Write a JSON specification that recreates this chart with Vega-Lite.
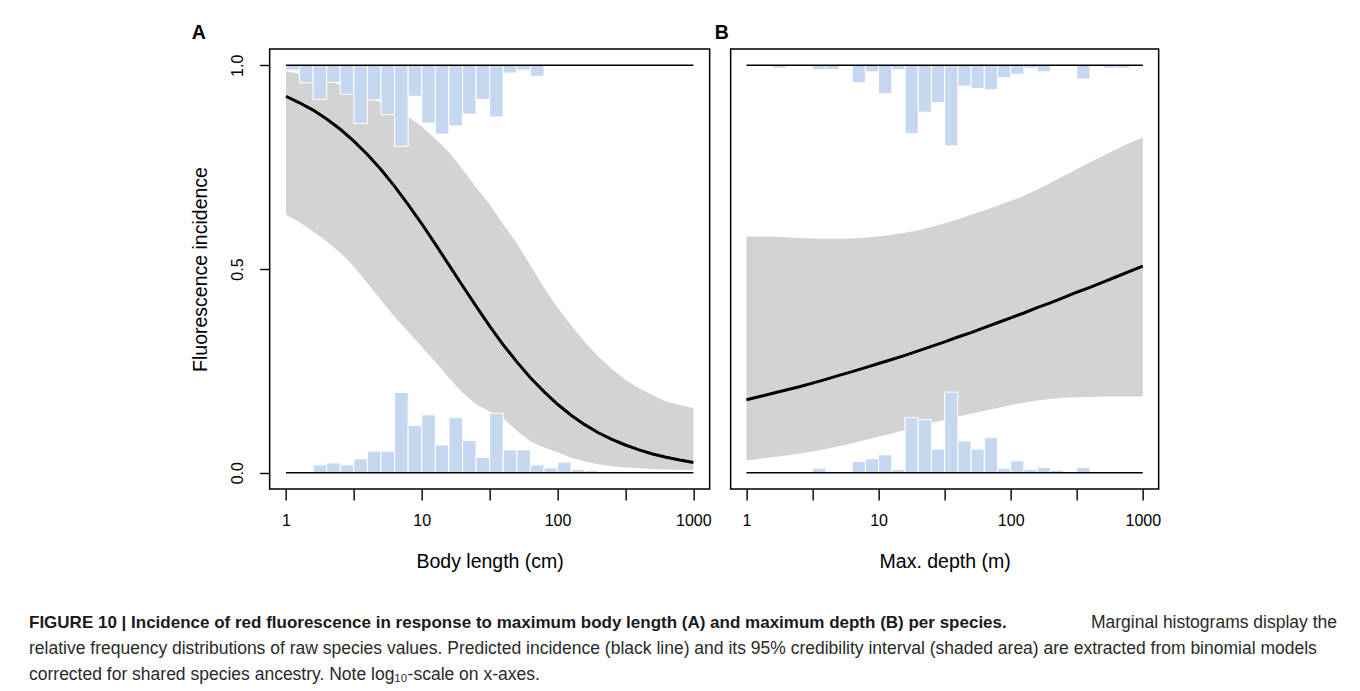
{
  "$schema": "https://vega.github.io/schema/vega-lite/v6.json",
  "background": "white",
  "padding": {"left": 29, "top": 21, "right": 0, "bottom": 0},
  "config": {
    "font": "Liberation Sans",
    "axis": {
      "grid": false,
      "domain": false,
      "tickColor": "black",
      "tickWidth": 1.4,
      "labelColor": "black",
      "titleColor": "black",
      "labelFont": "Liberation Sans",
      "titleFont": "Liberation Sans",
      "labelFontSize": 16,
      "titleFontSize": 19.5,
      "titleFontWeight": "normal"
    }
  },
  "datasets": {
    "curveA": [
      {"length": 1, "incidence": 0.924, "lower": 0.633, "upper": 0.985},
      {"length": 1.2589, "incidence": 0.908, "lower": 0.615, "upper": 0.980},
      {"length": 1.5849, "incidence": 0.890, "lower": 0.592, "upper": 0.972},
      {"length": 1.9953, "incidence": 0.868, "lower": 0.568, "upper": 0.963},
      {"length": 2.5119, "incidence": 0.843, "lower": 0.540, "upper": 0.952},
      {"length": 3.1623, "incidence": 0.814, "lower": 0.506, "upper": 0.940},
      {"length": 3.9811, "incidence": 0.781, "lower": 0.465, "upper": 0.925},
      {"length": 5.0119, "incidence": 0.744, "lower": 0.423, "upper": 0.908},
      {"length": 6.3096, "incidence": 0.703, "lower": 0.383, "upper": 0.890},
      {"length": 7.9433, "incidence": 0.658, "lower": 0.346, "upper": 0.874},
      {"length": 10, "incidence": 0.611, "lower": 0.309, "upper": 0.850},
      {"length": 12.589, "incidence": 0.561, "lower": 0.272, "upper": 0.820},
      {"length": 15.849, "incidence": 0.510, "lower": 0.233, "upper": 0.787},
      {"length": 19.953, "incidence": 0.459, "lower": 0.197, "upper": 0.745},
      {"length": 25.119, "incidence": 0.409, "lower": 0.168, "upper": 0.700},
      {"length": 31.623, "incidence": 0.360, "lower": 0.150, "upper": 0.659},
      {"length": 39.811, "incidence": 0.314, "lower": 0.134, "upper": 0.610},
      {"length": 50.119, "incidence": 0.272, "lower": 0.103, "upper": 0.563},
      {"length": 63.096, "incidence": 0.233, "lower": 0.077, "upper": 0.509},
      {"length": 79.433, "incidence": 0.199, "lower": 0.062, "upper": 0.454},
      {"length": 100, "incidence": 0.168, "lower": 0.050, "upper": 0.405},
      {"length": 125.89, "incidence": 0.141, "lower": 0.037, "upper": 0.362},
      {"length": 158.49, "incidence": 0.118, "lower": 0.028, "upper": 0.321},
      {"length": 199.53, "incidence": 0.098, "lower": 0.021, "upper": 0.285},
      {"length": 251.19, "incidence": 0.082, "lower": 0.016, "upper": 0.254},
      {"length": 316.23, "incidence": 0.068, "lower": 0.013, "upper": 0.228},
      {"length": 398.11, "incidence": 0.056, "lower": 0.011, "upper": 0.207},
      {"length": 501.19, "incidence": 0.046, "lower": 0.009, "upper": 0.190},
      {"length": 630.96, "incidence": 0.038, "lower": 0.008, "upper": 0.175},
      {"length": 794.33, "incidence": 0.031, "lower": 0.007, "upper": 0.166},
      {"length": 1000, "incidence": 0.025, "lower": 0.006, "upper": 0.159}
    ],
    "curveB": [
      {"depth": 1, "incidence": 0.179, "lower": 0.030, "upper": 0.580},
      {"depth": 1.2589, "incidence": 0.187, "lower": 0.034, "upper": 0.580},
      {"depth": 1.5849, "incidence": 0.195, "lower": 0.038, "upper": 0.579},
      {"depth": 1.9953, "incidence": 0.203, "lower": 0.042, "upper": 0.578},
      {"depth": 2.5119, "incidence": 0.211, "lower": 0.047, "upper": 0.576},
      {"depth": 3.1623, "incidence": 0.220, "lower": 0.052, "upper": 0.575},
      {"depth": 3.9811, "incidence": 0.229, "lower": 0.058, "upper": 0.574},
      {"depth": 5.0119, "incidence": 0.239, "lower": 0.065, "upper": 0.574},
      {"depth": 6.3096, "incidence": 0.248, "lower": 0.072, "upper": 0.575},
      {"depth": 7.9433, "incidence": 0.258, "lower": 0.080, "upper": 0.577},
      {"depth": 10, "incidence": 0.268, "lower": 0.088, "upper": 0.580},
      {"depth": 12.589, "incidence": 0.278, "lower": 0.096, "upper": 0.584},
      {"depth": 15.849, "incidence": 0.288, "lower": 0.105, "upper": 0.589},
      {"depth": 19.953, "incidence": 0.299, "lower": 0.114, "upper": 0.595},
      {"depth": 25.119, "incidence": 0.310, "lower": 0.122, "upper": 0.603},
      {"depth": 31.623, "incidence": 0.321, "lower": 0.130, "upper": 0.612},
      {"depth": 39.811, "incidence": 0.333, "lower": 0.138, "upper": 0.622},
      {"depth": 50.119, "incidence": 0.344, "lower": 0.145, "upper": 0.633},
      {"depth": 63.096, "incidence": 0.356, "lower": 0.152, "upper": 0.644},
      {"depth": 79.433, "incidence": 0.368, "lower": 0.159, "upper": 0.655},
      {"depth": 100, "incidence": 0.380, "lower": 0.166, "upper": 0.667},
      {"depth": 125.89, "incidence": 0.392, "lower": 0.172, "upper": 0.680},
      {"depth": 158.49, "incidence": 0.405, "lower": 0.177, "upper": 0.695},
      {"depth": 199.53, "incidence": 0.417, "lower": 0.181, "upper": 0.711},
      {"depth": 251.19, "incidence": 0.430, "lower": 0.184, "upper": 0.728},
      {"depth": 316.23, "incidence": 0.443, "lower": 0.185, "upper": 0.745},
      {"depth": 398.11, "incidence": 0.455, "lower": 0.186, "upper": 0.762},
      {"depth": 501.19, "incidence": 0.468, "lower": 0.187, "upper": 0.778},
      {"depth": 630.96, "incidence": 0.481, "lower": 0.187, "upper": 0.794},
      {"depth": 794.33, "incidence": 0.494, "lower": 0.187, "upper": 0.809},
      {"depth": 1000, "incidence": 0.507, "lower": 0.187, "upper": 0.823}
    ],
    "histA": [
      {"side": "bottom", "binStart": 1.5849, "binEnd": 1.9953, "share": 0.019},
      {"side": "bottom", "binStart": 1.9953, "binEnd": 2.5119, "share": 0.024},
      {"side": "bottom", "binStart": 2.5119, "binEnd": 3.1623, "share": 0.019},
      {"side": "bottom", "binStart": 3.1623, "binEnd": 3.9811, "share": 0.034},
      {"side": "bottom", "binStart": 3.9811, "binEnd": 5.0119, "share": 0.053},
      {"side": "bottom", "binStart": 5.0119, "binEnd": 6.3096, "share": 0.053},
      {"side": "bottom", "binStart": 6.3096, "binEnd": 7.9433, "share": 0.197},
      {"side": "bottom", "binStart": 7.9433, "binEnd": 10, "share": 0.116},
      {"side": "bottom", "binStart": 10, "binEnd": 12.589, "share": 0.142},
      {"side": "bottom", "binStart": 12.589, "binEnd": 15.849, "share": 0.068},
      {"side": "bottom", "binStart": 15.849, "binEnd": 19.953, "share": 0.135},
      {"side": "bottom", "binStart": 19.953, "binEnd": 25.119, "share": 0.079},
      {"side": "bottom", "binStart": 25.119, "binEnd": 31.623, "share": 0.038},
      {"side": "bottom", "binStart": 31.623, "binEnd": 39.811, "share": 0.146},
      {"side": "bottom", "binStart": 39.811, "binEnd": 50.119, "share": 0.056},
      {"side": "bottom", "binStart": 50.119, "binEnd": 63.096, "share": 0.056},
      {"side": "bottom", "binStart": 63.096, "binEnd": 79.433, "share": 0.019},
      {"side": "bottom", "binStart": 79.433, "binEnd": 100, "share": 0.012},
      {"side": "bottom", "binStart": 100, "binEnd": 125.89, "share": 0.026},
      {"side": "bottom", "binStart": 125.89, "binEnd": 158.49, "share": 0.008},
      {"side": "bottom", "binStart": 158.49, "binEnd": 199.53, "share": 0.005},
      {"side": "top", "binStart": 1, "binEnd": 1.2589, "share": 0.012},
      {"side": "top", "binStart": 1.2589, "binEnd": 1.5849, "share": 0.043},
      {"side": "top", "binStart": 1.5849, "binEnd": 1.9953, "share": 0.084},
      {"side": "top", "binStart": 1.9953, "binEnd": 2.5119, "share": 0.042},
      {"side": "top", "binStart": 2.5119, "binEnd": 3.1623, "share": 0.071},
      {"side": "top", "binStart": 3.1623, "binEnd": 3.9811, "share": 0.143},
      {"side": "top", "binStart": 3.9811, "binEnd": 5.0119, "share": 0.085},
      {"side": "top", "binStart": 5.0119, "binEnd": 6.3096, "share": 0.121},
      {"side": "top", "binStart": 6.3096, "binEnd": 7.9433, "share": 0.199},
      {"side": "top", "binStart": 7.9433, "binEnd": 10, "share": 0.076},
      {"side": "top", "binStart": 10, "binEnd": 12.589, "share": 0.142},
      {"side": "top", "binStart": 12.589, "binEnd": 15.849, "share": 0.169},
      {"side": "top", "binStart": 15.849, "binEnd": 19.953, "share": 0.149},
      {"side": "top", "binStart": 19.953, "binEnd": 25.119, "share": 0.120},
      {"side": "top", "binStart": 25.119, "binEnd": 31.623, "share": 0.084},
      {"side": "top", "binStart": 31.623, "binEnd": 39.811, "share": 0.127},
      {"side": "top", "binStart": 39.811, "binEnd": 50.119, "share": 0.019},
      {"side": "top", "binStart": 50.119, "binEnd": 63.096, "share": 0.012},
      {"side": "top", "binStart": 63.096, "binEnd": 79.433, "share": 0.027}
    ],
    "histB": [
      {"side": "bottom", "binStart": 3.1623, "binEnd": 3.9811, "share": 0.011},
      {"side": "bottom", "binStart": 6.3096, "binEnd": 7.9433, "share": 0.028},
      {"side": "bottom", "binStart": 7.9433, "binEnd": 10, "share": 0.034},
      {"side": "bottom", "binStart": 10, "binEnd": 12.589, "share": 0.044},
      {"side": "bottom", "binStart": 12.589, "binEnd": 15.849, "share": 0.008},
      {"side": "bottom", "binStart": 15.849, "binEnd": 19.953, "share": 0.135},
      {"side": "bottom", "binStart": 19.953, "binEnd": 25.119, "share": 0.130},
      {"side": "bottom", "binStart": 25.119, "binEnd": 31.623, "share": 0.058},
      {"side": "bottom", "binStart": 31.623, "binEnd": 39.811, "share": 0.198},
      {"side": "bottom", "binStart": 39.811, "binEnd": 50.119, "share": 0.078},
      {"side": "bottom", "binStart": 50.119, "binEnd": 63.096, "share": 0.058},
      {"side": "bottom", "binStart": 63.096, "binEnd": 79.433, "share": 0.087},
      {"side": "bottom", "binStart": 79.433, "binEnd": 100, "share": 0.011},
      {"side": "bottom", "binStart": 100, "binEnd": 125.89, "share": 0.029},
      {"side": "bottom", "binStart": 125.89, "binEnd": 158.49, "share": 0.008},
      {"side": "bottom", "binStart": 158.49, "binEnd": 199.53, "share": 0.013},
      {"side": "bottom", "binStart": 199.53, "binEnd": 251.19, "share": 0.006},
      {"side": "bottom", "binStart": 316.23, "binEnd": 398.11, "share": 0.013},
      {"side": "top", "binStart": 1.5849, "binEnd": 1.9953, "share": 0.007},
      {"side": "top", "binStart": 3.1623, "binEnd": 3.9811, "share": 0.011},
      {"side": "top", "binStart": 3.9811, "binEnd": 5.0119, "share": 0.011},
      {"side": "top", "binStart": 6.3096, "binEnd": 7.9433, "share": 0.043},
      {"side": "top", "binStart": 7.9433, "binEnd": 10, "share": 0.016},
      {"side": "top", "binStart": 10, "binEnd": 12.589, "share": 0.070},
      {"side": "top", "binStart": 12.589, "binEnd": 15.849, "share": 0.011},
      {"side": "top", "binStart": 15.849, "binEnd": 19.953, "share": 0.168},
      {"side": "top", "binStart": 19.953, "binEnd": 25.119, "share": 0.115},
      {"side": "top", "binStart": 25.119, "binEnd": 31.623, "share": 0.092},
      {"side": "top", "binStart": 31.623, "binEnd": 39.811, "share": 0.198},
      {"side": "top", "binStart": 39.811, "binEnd": 50.119, "share": 0.051},
      {"side": "top", "binStart": 50.119, "binEnd": 63.096, "share": 0.057},
      {"side": "top", "binStart": 63.096, "binEnd": 79.433, "share": 0.060},
      {"side": "top", "binStart": 79.433, "binEnd": 100, "share": 0.030},
      {"side": "top", "binStart": 100, "binEnd": 125.89, "share": 0.022},
      {"side": "top", "binStart": 125.89, "binEnd": 158.49, "share": 0.007},
      {"side": "top", "binStart": 158.49, "binEnd": 199.53, "share": 0.016},
      {"side": "top", "binStart": 316.23, "binEnd": 398.11, "share": 0.034},
      {"side": "top", "binStart": 501.19, "binEnd": 630.96, "share": 0.007},
      {"side": "top", "binStart": 630.96, "binEnd": 794.33, "share": 0.007}
    ],
    "baseLines": [
      {"from": 1, "to": 1000, "level": 0},
      {"from": 1, "to": 1000, "level": 1}
    ],
    "caption": [
      {"line": 1, "part": "lead", "text": "FIGURE 10 | Incidence of red fluorescence in response to maximum body length (A) and maximum depth (B) per species."},
      {"line": 1, "part": "tail", "text": "Marginal histograms display the"},
      {"line": 2, "part": "body", "text": "relative frequency distributions of raw species values. Predicted incidence (black line) and its 95% credibility interval (shaded area) are extracted from binomial models"},
      {"line": 3, "part": "body", "text": "corrected for shared species ancestry. Note log₁₀-scale on x-axes."}
    ]
  },
  "vconcat": [
    {
      "hconcat": [
        {
          "width": 44,
          "height": 440,
          "view": {"stroke": null},
          "data": {"values": []},
          "mark": "point"
        },
        {
          "width": 440,
          "height": 440,
          "view": {"stroke": "black", "strokeWidth": 1.5},
          "title": {"text": "A", "anchor": "start", "frame": "group", "dx": -78, "offset": 6, "fontSize": 19.5, "fontWeight": "bold", "color": "black"},
          "layer": [
            {
              "data": {"name": "curveA"},
              "mark": {"type": "area", "color": "#d3d3d3"},
              "encoding": {
                "x": {
                  "field": "length", "type": "quantitative", "title": "Body length (cm)",
                  "scale": {"type": "log", "domain": [0.7586, 1318.26], "nice": false},
                  "axis": {
                    "values": [1, 3.1623, 10, 31.623, 100, 316.23, 1000],
                    "labelExpr": "datum.value == 1 || datum.value == 10 || datum.value == 100 || datum.value == 1000 ? datum.value + '' : ''",
                    "tickSize": 11, "labelPadding": 12, "titlePadding": 24,
                    "labelFlush": false, "labelOverlap": false
                  }
                },
                "y": {
                  "field": "lower", "type": "quantitative", "title": "Fluorescence incidence",
                  "scale": {"domain": [-0.04, 1.04], "nice": false, "zero": false},
                  "axis": {
                    "values": [0, 0.5, 1], "format": ".1f",
                    "labelAngle": -90, "labelAlign": "center", "labelBaseline": "bottom",
                    "tickSize": 10, "labelPadding": 14, "titlePadding": 19
                  }
                },
                "y2": {"field": "upper"}
              }
            },
            {
              "data": {"name": "curveA"},
              "mark": {"type": "line", "color": "black", "strokeWidth": 3},
              "encoding": {
                "x": {"field": "length", "type": "quantitative", "title": "Body length (cm)"},
                "y": {"field": "incidence", "type": "quantitative", "scale": {"domain": [-0.04, 1.04], "nice": false, "zero": false}, "axis": null}
              }
            },
            {
              "data": {"name": "histA"},
              "transform": [{"filter": "datum.side === 'bottom'"}],
              "mark": {"type": "rect", "fill": "#c5d8f0", "stroke": "white", "strokeWidth": 1},
              "encoding": {
                "x": {"field": "binStart", "type": "quantitative", "title": "Body length (cm)"},
                "x2": {"field": "binEnd"},
                "y": {"field": "share", "type": "quantitative", "scale": {"domain": [-0.04, 1.04], "nice": false, "zero": false}, "axis": null},
                "y2": {"datum": 0}
              }
            },
            {
              "data": {"name": "histA"},
              "transform": [{"filter": "datum.side === 'top'"}],
              "mark": {"type": "rect", "fill": "#c5d8f0", "stroke": "white", "strokeWidth": 1},
              "encoding": {
                "x": {"field": "binStart", "type": "quantitative", "title": "Body length (cm)"},
                "x2": {"field": "binEnd"},
                "y": {"field": "share", "type": "quantitative", "scale": {"domain": [-0.04, 1.04], "nice": false, "zero": false, "reverse": true}, "axis": null},
                "y2": {"datum": 0}
              }
            },
            {
              "data": {"name": "baseLines"},
              "mark": {"type": "rule", "color": "black", "strokeWidth": 1.5},
              "encoding": {
                "x": {"field": "from", "type": "quantitative", "title": "Body length (cm)"},
                "x2": {"field": "to"},
                "y": {"field": "level", "type": "quantitative", "scale": {"domain": [-0.04, 1.04], "nice": false, "zero": false}, "axis": null}
              }
            }
          ],
          "resolve": {"scale": {"y": "independent"}}
        },
        {
          "width": 428,
          "height": 440,
          "view": {"stroke": "black", "strokeWidth": 1.5},
          "title": {"text": "B", "anchor": "start", "frame": "group", "dx": -16, "offset": 6, "fontSize": 19.5, "fontWeight": "bold", "color": "black"},
          "layer": [
            {
              "data": {"name": "curveB"},
              "mark": {"type": "area", "color": "#d3d3d3"},
              "encoding": {
                "x": {
                  "field": "depth", "type": "quantitative", "title": "Max. depth (m)",
                  "scale": {"type": "log", "domain": [0.7586, 1318.26], "nice": false},
                  "axis": {
                    "values": [1, 3.1623, 10, 31.623, 100, 316.23, 1000],
                    "labelExpr": "datum.value == 1 || datum.value == 10 || datum.value == 100 || datum.value == 1000 ? datum.value + '' : ''",
                    "tickSize": 11, "labelPadding": 12, "titlePadding": 24,
                    "labelFlush": false, "labelOverlap": false
                  }
                },
                "y": {"field": "lower", "type": "quantitative", "scale": {"domain": [-0.04, 1.04], "nice": false, "zero": false}, "axis": null},
                "y2": {"field": "upper"}
              }
            },
            {
              "data": {"name": "curveB"},
              "mark": {"type": "line", "color": "black", "strokeWidth": 3},
              "encoding": {
                "x": {"field": "depth", "type": "quantitative", "title": "Max. depth (m)"},
                "y": {"field": "incidence", "type": "quantitative", "scale": {"domain": [-0.04, 1.04], "nice": false, "zero": false}, "axis": null}
              }
            },
            {
              "data": {"name": "histB"},
              "transform": [{"filter": "datum.side === 'bottom'"}],
              "mark": {"type": "rect", "fill": "#c5d8f0", "stroke": "white", "strokeWidth": 1},
              "encoding": {
                "x": {"field": "binStart", "type": "quantitative", "title": "Max. depth (m)"},
                "x2": {"field": "binEnd"},
                "y": {"field": "share", "type": "quantitative", "scale": {"domain": [-0.04, 1.04], "nice": false, "zero": false}, "axis": null},
                "y2": {"datum": 0}
              }
            },
            {
              "data": {"name": "histB"},
              "transform": [{"filter": "datum.side === 'top'"}],
              "mark": {"type": "rect", "fill": "#c5d8f0", "stroke": "white", "strokeWidth": 1},
              "encoding": {
                "x": {"field": "binStart", "type": "quantitative", "title": "Max. depth (m)"},
                "x2": {"field": "binEnd"},
                "y": {"field": "share", "type": "quantitative", "scale": {"domain": [-0.04, 1.04], "nice": false, "zero": false, "reverse": true}, "axis": null},
                "y2": {"datum": 0}
              }
            },
            {
              "data": {"name": "baseLines"},
              "mark": {"type": "rule", "color": "black", "strokeWidth": 1.5},
              "encoding": {
                "x": {"field": "from", "type": "quantitative", "title": "Max. depth (m)"},
                "x2": {"field": "to"},
                "y": {"field": "level", "type": "quantitative", "scale": {"domain": [-0.04, 1.04], "nice": false, "zero": false}, "axis": null}
              }
            }
          ],
          "resolve": {"scale": {"y": "independent"}}
        }
      ],
      "spacing": 21,
      "bounds": "flush"
    },
    {
      "width": 1308,
      "height": 78,
      "view": {"stroke": null},
      "data": {"name": "caption"},
      "layer": [
        {
          "transform": [{"filter": "datum.part === 'lead'"}],
          "mark": {"type": "text", "align": "left", "baseline": "middle", "fontSize": 17, "fontWeight": "bold", "color": "#1a1a1a"},
          "encoding": {
            "x": {"value": 0},
            "y": {"field": "line", "type": "ordinal", "scale": {"type": "point", "padding": 0.5}, "axis": null},
            "text": {"field": "text"}
          }
        },
        {
          "transform": [{"filter": "datum.part === 'tail'"}],
          "mark": {"type": "text", "align": "right", "baseline": "middle", "fontSize": 17.5, "color": "#2a2a2a"},
          "encoding": {
            "x": {"value": "width"},
            "y": {"field": "line", "type": "ordinal", "axis": null},
            "text": {"field": "text"}
          }
        },
        {
          "transform": [{"filter": "datum.part === 'body'"}],
          "mark": {"type": "text", "align": "left", "baseline": "middle", "fontSize": 17.5, "color": "#2a2a2a"},
          "encoding": {
            "x": {"value": 0},
            "y": {"field": "line", "type": "ordinal", "axis": null},
            "text": {"field": "text"}
          }
        }
      ]
    }
  ],
  "spacing": 38,
  "center": true
}
